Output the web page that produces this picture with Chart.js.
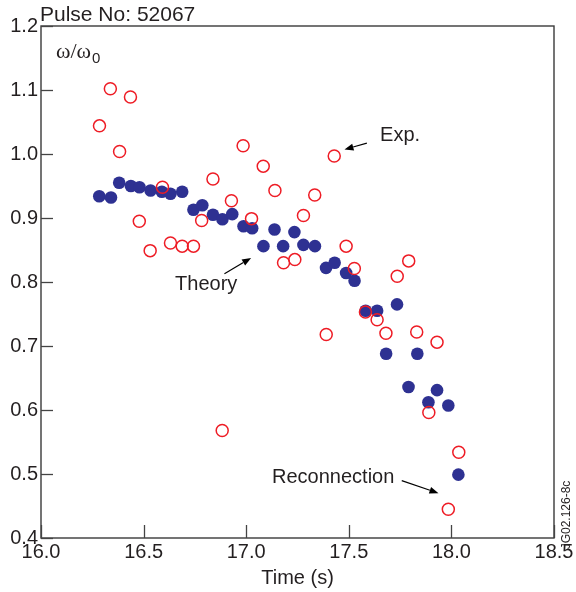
<!DOCTYPE html>
<html><head><meta charset="utf-8">
<script src="https://cdn.jsdelivr.net/npm/chart.js@4"></script>
<style>html,body{margin:0;padding:0;background:#fff}#wrap{width:576px;height:592px;position:relative}</style>
</head><body><div id="wrap"><canvas id="c" width="576" height="592"></canvas></div>
<script>
const pulseTitle = "Pulse No: 52067";
const expTime = [16.285,16.338,16.383,16.436,16.479,16.532,16.592,16.631,16.688,16.743,16.783,16.838,16.883,16.928,16.985,17.026,17.083,17.140,17.182,17.237,17.279,17.334,17.390,17.429,17.487,17.527,17.581,17.638,17.681,17.736,17.792,17.831,17.890,17.930,17.985,18.036];
const expValue = [1.044,1.102,1.004,1.089,0.895,0.849,0.948,0.861,0.856,0.856,0.896,0.961,0.568,0.927,1.013,0.899,0.981,0.943,0.830,0.835,0.904,0.936,0.718,0.997,0.856,0.821,0.753,0.741,0.720,0.809,0.833,0.722,0.596,0.706,0.445,0.534];
const theoryTime = [16.284,16.341,16.381,16.438,16.480,16.534,16.589,16.631,16.688,16.743,16.786,16.838,16.884,16.932,16.987,17.029,17.084,17.138,17.180,17.235,17.279,17.335,17.389,17.431,17.487,17.528,17.582,17.638,17.682,17.735,17.791,17.834,17.888,17.930,17.985,18.034];
const theoryValue = [0.934,0.932,0.955,0.950,0.948,0.943,0.941,0.938,0.941,0.913,0.920,0.905,0.898,0.906,0.887,0.884,0.856,0.882,0.856,0.878,0.858,0.856,0.822,0.830,0.814,0.802,0.755,0.755,0.688,0.765,0.636,0.688,0.612,0.631,0.607,0.499];
const xTickValues = [16.0,16.5,17.0,17.5,18.0,18.5];
const yTickValues = [0.4,0.5,0.6,0.7,0.8,0.9,1.0,1.1,1.2];
const annotations = [
  {text:"Exp.", x:17.75, y:1.029, from:[17.588,1.017], to:[17.479,1.007]},
  {text:"Theory", x:16.805, y:0.796, from:[16.894,0.813], to:[17.024,0.8375]},
  {text:"Reconnection", x:17.424, y:0.494, from:[17.758,0.4896], to:[17.937,0.470]}
];

const SANS = '"Liberation Sans", Arial, Helvetica, sans-serif';
const INK = '#231f20';

function pts(xs, ys){ return xs.map((x,i)=>({x:x, y:ys[i]})); }

function arrow(ctx, x1, y1, x2, y2){
  ctx.save();
  ctx.strokeStyle = '#000'; ctx.fillStyle = '#000'; ctx.lineWidth = 1.2;
  const a = Math.atan2(y2-y1, x2-x1), L = 9, W = 3.5;
  const bx = x2 - L*Math.cos(a), by = y2 - L*Math.sin(a);
  ctx.beginPath(); ctx.moveTo(x1,y1); ctx.lineTo(bx,by); ctx.stroke();
  ctx.beginPath(); ctx.moveTo(x2,y2);
  ctx.lineTo(bx + W*Math.sin(a), by - W*Math.cos(a));
  ctx.lineTo(bx - W*Math.sin(a), by + W*Math.cos(a));
  ctx.closePath(); ctx.fill();
  ctx.restore();
}

const decor = {
  id:'decor',
  afterDatasetsDraw(chart){
    const ctx = chart.ctx, a = chart.chartArea, xs = chart.scales.x, ys = chart.scales.y;
    ctx.save();
    // frame
    ctx.strokeStyle = '#3a3a3a'; ctx.lineWidth = 1.4;
    ctx.strokeRect(a.left, a.top, a.right - a.left, a.bottom - a.top);
    // inner ticks
    ctx.strokeStyle = '#444'; ctx.lineWidth = 1.3;
    yTickValues.forEach(v=>{
      const py = Math.round(ys.getPixelForValue(v))+0.5;
      ctx.beginPath(); ctx.moveTo(a.left, py); ctx.lineTo(a.left+12, py); ctx.stroke();
    });
    xTickValues.forEach(v=>{
      const px = Math.round(xs.getPixelForValue(v))+0.5;
      ctx.beginPath(); ctx.moveTo(px, a.bottom); ctx.lineTo(px, a.bottom-13); ctx.stroke();
    });
    // title
    ctx.fillStyle = INK; ctx.font = '21px ' + SANS; ctx.textBaseline = 'alphabetic'; ctx.textAlign = 'left';
    ctx.fillText(pulseTitle, 40, 21);
    // y label omega/omega0
    ctx.font = '22px "Liberation Serif", "Times New Roman", serif';
    ctx.fillText('\u03c9/\u03c9', 56, 58);
    const w = ctx.measureText('\u03c9/\u03c9').width;
    ctx.font = '15px ' + SANS;
    ctx.fillText('0', 56 + w + 1, 63);
    // annotations
    ctx.font = '20px ' + SANS; ctx.textAlign = 'center'; ctx.textBaseline = 'middle';
    annotations.forEach(an=>{
      ctx.fillStyle = INK;
      ctx.fillText(an.text, xs.getPixelForValue(an.x), ys.getPixelForValue(an.y));
      arrow(ctx, xs.getPixelForValue(an.from[0]), ys.getPixelForValue(an.from[1]),
                 xs.getPixelForValue(an.to[0]), ys.getPixelForValue(an.to[1]));
    });
    // figure code
    ctx.save();
    ctx.translate(567, 515); ctx.rotate(-Math.PI/2);
    ctx.font = '12px ' + SANS; ctx.fillStyle = INK; ctx.textAlign = 'center'; ctx.textBaseline = 'middle';
    ctx.fillText('JG02.126-8c', 0, 0);
    ctx.restore();
    ctx.restore();
  }
};

new Chart(document.getElementById('c'), {
  type:'scatter',
  data:{datasets:[
    {label:'Exp.', data:pts(expTime, expValue), order:0,
     pointStyle:'circle', pointRadius:6, pointBorderWidth:1.5,
     pointBackgroundColor:'rgba(255,255,255,0)', pointBorderColor:'#ee1c25'},
    {label:'Theory', data:pts(theoryTime, theoryValue), order:1,
     pointStyle:'circle', pointRadius:6.3, pointBorderWidth:0,
     pointBackgroundColor:'#2e3192', pointBorderColor:'#2e3192'}
  ]},
  options:{
    responsive:false, animation:false, devicePixelRatio:1,
    layout:{padding:{top:26, right:22, left:0, bottom:0}},
    plugins:{legend:{display:false}, tooltip:{enabled:false}},
    scales:{
      x:{type:'linear', min:16, max:18.5,
        afterBuildTicks(s){ s.ticks = xTickValues.map(v=>({value:v})); },
        afterFit(s){ s.height = 54; },
        grid:{display:false, drawTicks:false},
        border:{display:false},
        ticks:{padding:2, color:INK, font:{family:SANS, size:20}, maxRotation:0,
          callback:(v)=>Number(v).toFixed(1)},
        title:{display:true, text:'Time (s)', color:INK, font:{family:SANS, size:20}, padding:{top:0,bottom:2}}
      },
      y:{type:'linear', min:0.4, max:1.2,
        afterBuildTicks(s){ s.ticks = yTickValues.map(v=>({value:v})); },
        afterFit(s){ s.width = 41; },
        grid:{display:false, drawTicks:false},
        border:{display:false},
        ticks:{padding:3, color:INK, font:{family:SANS, size:20},
          callback:(v)=>Number(v).toFixed(1)}
      }
    }
  },
  plugins:[decor]
});
</script></body></html>
